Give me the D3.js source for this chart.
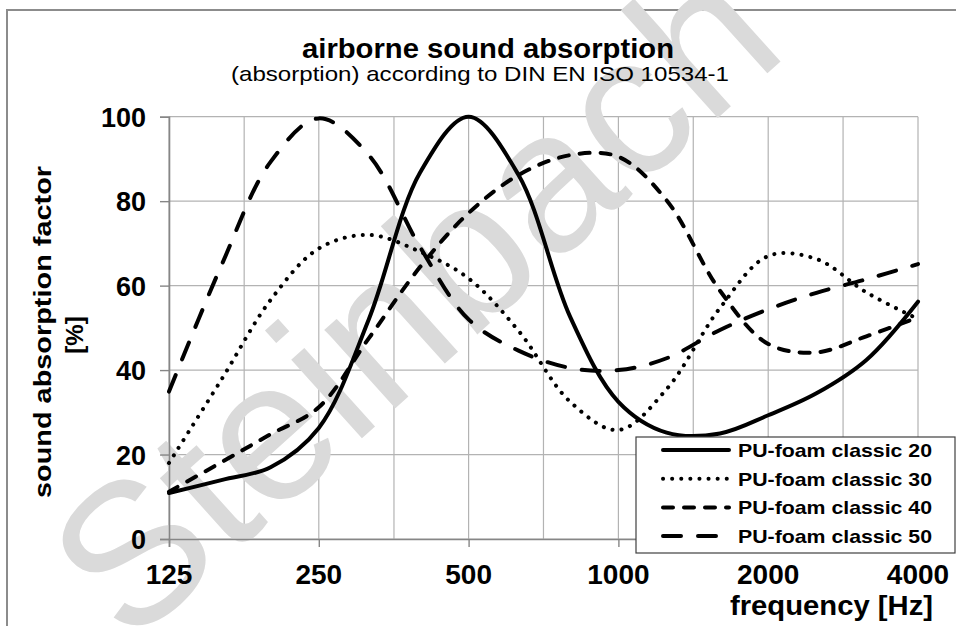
<!DOCTYPE html>
<html>
<head>
<meta charset="utf-8">
<script src="https://cdn.jsdelivr.net/npm/d3@7"></script>
<style>
  body { margin: 0; background: #fff; }
  text { font-family: "Liberation Sans", Arial, sans-serif; }
</style>
</head>
<body>
<div id="chart"></div>
<script>
// data (1/3 octave bands)
var freqs = [125, 160, 200, 250, 315, 400, 500, 630, 800, 1000, 1250, 1600, 2000, 2500, 3150, 4000];
var classic20 = [10.9, 14.0, 17.0, 26.3, 52, 86.9, 100, 86.2, 52.6, 32.5, 25.2, 25.0, 29.3, 34.5, 42.4, 56.2];
var classic30 = [18, 38.1, 56.6, 68.8, 72, 68, 61.7, 49.3, 32.5, 25.8, 35.5, 54.7, 67, 66.3, 58.4, 52.1];
var classic40 = [11.2, 18.3, 24.8, 31.2, 47.5, 64.5, 77.2, 86.2, 90.9, 90.5, 80.2, 58.8, 46.2, 44.2, 48, 52.5];
var classic50 = [34.9, 65.3, 89.3, 99.6, 90.9, 69, 52, 44.6, 40.5, 40, 42.8, 49.5, 54.4, 58.3, 61.5, 65.1];

var seriesNames = ["PU-foam classic 20", "PU-foam classic 30", "PU-foam classic 40", "PU-foam classic 50"];
var gridFreqs = [125, 177, 250, 354, 500, 707, 1000, 1414, 2000, 2828, 4000];
var tickFreqs = [125, 250, 500, 1000, 2000, 4000];
var yTicks = [0, 20, 40, 60, 80, 100];

var svgWidth = 956;
var svgHeight = 626;

var svg = d3.select("#chart")
  .append("svg")
  .attr("width", svgWidth)
  .attr("height", svgHeight);

// scales
var xScale = d3.scaleLog().base(2)
  .domain([125, 4000])
  .range([169, 918]);

var yScale = d3.scaleLinear()
  .domain([0, 100])
  .range([539, 116.7]);

// outer chart frame
svg.append("path")
  .attr("d", "M7,626 L7,10 L956,10")
  .attr("fill", "none")
  .attr("stroke", "#8c8c8c")
  .attr("stroke-width", 2);

// gridlines
var gridGroup = svg.append("g");

gridGroup.selectAll(".vgrid")
  .data(gridFreqs)
  .enter()
  .append("line")
  .attr("x1", d => xScale(d))
  .attr("x2", d => xScale(d))
  .attr("y1", yScale(100))
  .attr("y2", yScale(0))
  .attr("stroke", "#b3b3b3")
  .attr("stroke-width", 1.2);

gridGroup.selectAll(".hgrid")
  .data(yTicks)
  .enter()
  .append("line")
  .attr("x1", xScale(125))
  .attr("x2", xScale(4000))
  .attr("y1", d => yScale(d))
  .attr("y2", d => yScale(d))
  .attr("stroke", "#b3b3b3")
  .attr("stroke-width", 1.2);

// watermark, sits over the grid but under text and curves
svg.append("text")
  .attr("transform", "translate(129, 648) rotate(-42)")
  .attr("font-size", "200px")
  .attr("fill", "#dadada")
  .text("Steinbach");

// title
svg.append("text")
  .attr("x", 488)
  .attr("y", 58)
  .attr("text-anchor", "middle")
  .attr("font-size", "27px")
  .attr("font-weight", "bold")
  .attr("textLength", 372)
  .attr("lengthAdjust", "spacingAndGlyphs")
  .text("airborne sound absorption");

svg.append("text")
  .attr("x", 480)
  .attr("y", 81)
  .attr("text-anchor", "middle")
  .attr("font-size", "21px")
  .attr("textLength", 498)
  .attr("lengthAdjust", "spacingAndGlyphs")
  .text("(absorption) according to DIN EN ISO 10534-1");

// axes
var leftAxis = d3.axisLeft(yScale)
  .tickValues(yTicks)
  .tickSize(9)
  .tickFormat("");

var bottomAxis = d3.axisBottom(xScale)
  .tickValues(tickFreqs)
  .tickSize(8)
  .tickFormat("");

var yAxis = svg.append("g")
  .attr("transform", `translate(${xScale(125)}, 0)`)
  .call(leftAxis);

var xAxis = svg.append("g")
  .attr("transform", `translate(0, ${yScale(0)})`)
  .call(bottomAxis);

[yAxis, xAxis].forEach(function(ax) {
  ax.select(".domain").attr("stroke", "#868686").attr("stroke-width", 1.6);
  ax.selectAll(".tick line").attr("stroke", "#868686").attr("stroke-width", 1.4);
});

// tick labels
svg.selectAll(".ylabel")
  .data(yTicks)
  .enter()
  .append("text")
  .attr("x", 146)
  .attr("y", d => yScale(d) + 10)
  .attr("text-anchor", "end")
  .attr("font-size", "27px")
  .attr("font-weight", "bold")
  .text(d => d);

svg.selectAll(".xlabel")
  .data(tickFreqs)
  .enter()
  .append("text")
  .attr("x", d => xScale(d))
  .attr("y", 584)
  .attr("text-anchor", "middle")
  .attr("font-size", "28px")
  .attr("font-weight", "bold")
  .text(d => d);

// axis titles
svg.append("text")
  .attr("x", 933)
  .attr("y", 615)
  .attr("text-anchor", "end")
  .attr("font-size", "27px")
  .attr("font-weight", "bold")
  .attr("textLength", 203)
  .attr("lengthAdjust", "spacingAndGlyphs")
  .text("frequency [Hz]");

var yTitle = svg.append("g")
  .attr("transform", "translate(0, 332) rotate(-90)");

yTitle.append("text")
  .attr("x", 0)
  .attr("y", 51)
  .attr("text-anchor", "middle")
  .attr("font-size", "24px")
  .attr("font-weight", "bold")
  .attr("textLength", 332)
  .attr("lengthAdjust", "spacingAndGlyphs")
  .text("sound absorption factor");

yTitle.append("text")
  .attr("x", -3)
  .attr("y", 83)
  .attr("text-anchor", "middle")
  .attr("font-size", "24px")
  .attr("font-weight", "bold")
  .text("[%]");

// curves
var styles = [
  { dash: null, cap: "round" },
  { dash: "0.1,9", cap: "round" },
  { dash: "10,11", cap: "round" },
  { dash: "18,17", cap: "round" }
];
var allSeries = [classic20, classic30, classic40, classic50];

var lineGen = d3.line()
  .x((d, i) => xScale(freqs[i]))
  .y(d => yScale(d))
  .curve(d3.curveCatmullRom.alpha(0.5));

svg.selectAll(".curve")
  .data(allSeries)
  .enter()
  .append("path")
  .attr("d", d => lineGen(d))
  .attr("fill", "none")
  .attr("stroke", "#000")
  .attr("stroke-width", 4)
  .attr("stroke-linecap", (d, i) => styles[i].cap)
  .attr("stroke-dasharray", (d, i) => styles[i].dash);

// legend
var legend = svg.append("g");

legend.append("rect")
  .attr("x", 636)
  .attr("y", 437)
  .attr("width", 319)
  .attr("height", 116)
  .attr("fill", "#fff")
  .attr("stroke", "#404040")
  .attr("stroke-width", 1.2);

var rows = legend.selectAll(".row")
  .data(seriesNames)
  .enter()
  .append("g")
  .attr("transform", (d, i) => `translate(0, ${457 + i * 28.7})`);

rows.append("line")
  .attr("x1", 663)
  .attr("x2", 729)
  .attr("y1", -7)
  .attr("y2", -7)
  .attr("stroke", "#000")
  .attr("stroke-width", 4)
  .attr("stroke-linecap", (d, i) => styles[i].cap)
  .attr("stroke-dasharray", (d, i) => styles[i].dash);

rows.append("text")
  .attr("x", 738)
  .attr("y", 0)
  .attr("font-size", "19px")
  .attr("font-weight", "bold")
  .attr("textLength", 194)
  .attr("lengthAdjust", "spacingAndGlyphs")
  .text(d => d);
</script>
</body>
</html>
